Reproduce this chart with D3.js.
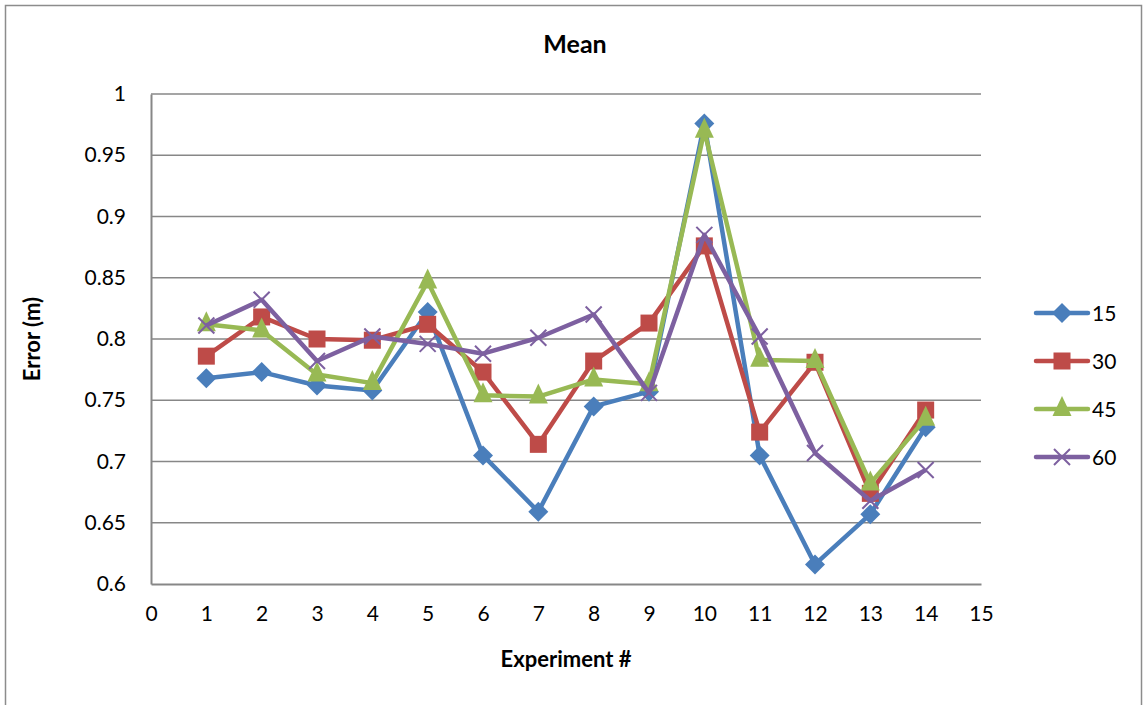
<!DOCTYPE html>
<html>
<head>
<meta charset="utf-8">
<script src="https://cdn.jsdelivr.net/npm/d3@7"></script>
<style>
  body { margin: 0; background: #fff; }
  text { font-family: Lato, "Open Sans", sans-serif; fill: #000; }
</style>
</head>
<body>
<div id="chart"></div>
<script>
const WIDTH = 1145;
const HEIGHT = 705;

const experiments = [1, 2, 3, 4, 5, 6, 7, 8, 9, 10, 11, 12, 13, 14];
const seriesNames = ["15", "30", "45", "60"];
const s15 = [0.768, 0.773, 0.762, 0.758, 0.822, 0.705, 0.659, 0.745, 0.757, 0.976, 0.705, 0.616, 0.657, 0.728];
const s30 = [0.786, 0.818, 0.800, 0.799, 0.812, 0.773, 0.714, 0.782, 0.813, 0.876, 0.724, 0.781, 0.674, 0.742];
const s45 = [0.812, 0.807, 0.771, 0.764, 0.847, 0.754, 0.753, 0.767, 0.763, 0.970, 0.783, 0.782, 0.682, 0.735];
const s60 = [0.811, 0.832, 0.782, 0.802, 0.796, 0.788, 0.801, 0.820, 0.756, 0.885, 0.802, 0.707, 0.668, 0.693];
const xTicks = d3.range(0, 16);
const yTicks = [0.6, 0.65, 0.7, 0.75, 0.8, 0.85, 0.9, 0.95, 1];
const colors = ["#4a7ebb", "#be4b48", "#98b954", "#7d60a0"];
const symbols = ["diamond", "square", "triangle", "cross"];

const allSeries = [s15, s30, s45, s60];

const svg = d3.select("#chart").append("svg")
  .attr("width", WIDTH)
  .attr("height", HEIGHT);

// outer frame
svg.append("rect")
  .attr("x", 5.5).attr("y", 5.5)
  .attr("width", 1136).attr("height", 710)
  .attr("fill", "none").attr("stroke", "#8c8c8c").attr("stroke-width", 1.5);

const x = d3.scaleLinear().domain([0, 15]).range([151, 981]);
const y = d3.scaleLinear().domain([0.6, 1]).range([584, 94]);

// gridlines
svg.append("g")
  .selectAll("line")
  .data(yTicks.slice(1))
  .join("line")
  .attr("x1", x(0)).attr("x2", x(15))
  .attr("y1", d => y(d)).attr("y2", d => y(d))
  .attr("stroke", "#878787").attr("stroke-width", 1.5);

// axes
const yAxis = svg.append("g")
  .attr("transform", `translate(${x(0)},0)`)
  .call(d3.axisLeft(y).tickValues(yTicks).tickSize(0).tickPadding(25)
    .tickFormat(d => d3.format("")(+d.toFixed(2))));
yAxis.select(".domain").attr("stroke", "#878787").attr("stroke-width", 2);
yAxis.selectAll("text").style("font-size", "21px").attr("fill", "#000");

const xAxis = svg.append("g")
  .attr("transform", `translate(0,${y(0.6)})`)
  .call(d3.axisBottom(x).tickValues(xTicks).tickSize(0).tickPadding(22).tickFormat(d3.format("d")));
xAxis.select(".domain").attr("stroke", "#878787").attr("stroke-width", 2);
xAxis.selectAll("text").style("font-size", "21px").attr("fill", "#000");

// titles
svg.append("text")
  .attr("x", 575).attr("y", 53)
  .attr("text-anchor", "middle")
  .style("font-size", "25px").style("font-weight", "bold")
  .text("Mean");

svg.append("text")
  .attr("x", 566).attr("y", 667)
  .attr("text-anchor", "middle")
  .style("font-size", "22px").style("font-weight", "bold")
  .text("Experiment #");

svg.append("text")
  .attr("transform", "translate(40,339) rotate(-90)")
  .attr("text-anchor", "middle")
  .style("font-size", "22px").style("font-weight", "bold")
  .text("Error (m)");

function drawMarker(g, type, color) {
  if (type === "diamond") {
    g.append("path").attr("d", "M0,-10L10,0L0,10L-10,0Z").attr("fill", color);
  } else if (type === "square") {
    g.append("rect").attr("x", -8.5).attr("y", -8.5).attr("width", 17).attr("height", 17).attr("fill", color);
  } else if (type === "triangle") {
    g.append("path").attr("d", "M0,-13L9.5,7L-9.5,7Z").attr("fill", color);
  } else {
    g.append("path").attr("d", "M-8,-8L8,8M-8,8L8,-8")
      .attr("stroke", color).attr("stroke-width", 2).attr("fill", "none");
  }
}

const line = d3.line()
  .x((d, i) => x(experiments[i]))
  .y(d => y(d));

allSeries.forEach((vals, si) => {
  const g = svg.append("g");
  g.append("path")
    .attr("d", line(vals))
    .attr("fill", "none")
    .attr("stroke", colors[si])
    .attr("stroke-width", 4.5)
    .attr("stroke-linejoin", "round");
  vals.forEach((v, i) => {
    const m = g.append("g").attr("transform", `translate(${x(experiments[i])},${y(v)})`);
    drawMarker(m, symbols[si], colors[si]);
  });
});

// legend
const legend = svg.append("g");
seriesNames.forEach((name, i) => {
  const ly = 313 + i * 48;
  legend.append("line")
    .attr("x1", 1036).attr("x2", 1088)
    .attr("y1", ly).attr("y2", ly)
    .attr("stroke", colors[i]).attr("stroke-width", 4.5).attr("stroke-linecap", "round");
  const m = legend.append("g").attr("transform", `translate(1062,${ly})`);
  drawMarker(m, symbols[i], colors[i]);
  legend.append("text")
    .attr("x", 1092).attr("y", ly + 8)
    .style("font-size", "21px")
    .text(name);
});
</script>
</body>
</html>
